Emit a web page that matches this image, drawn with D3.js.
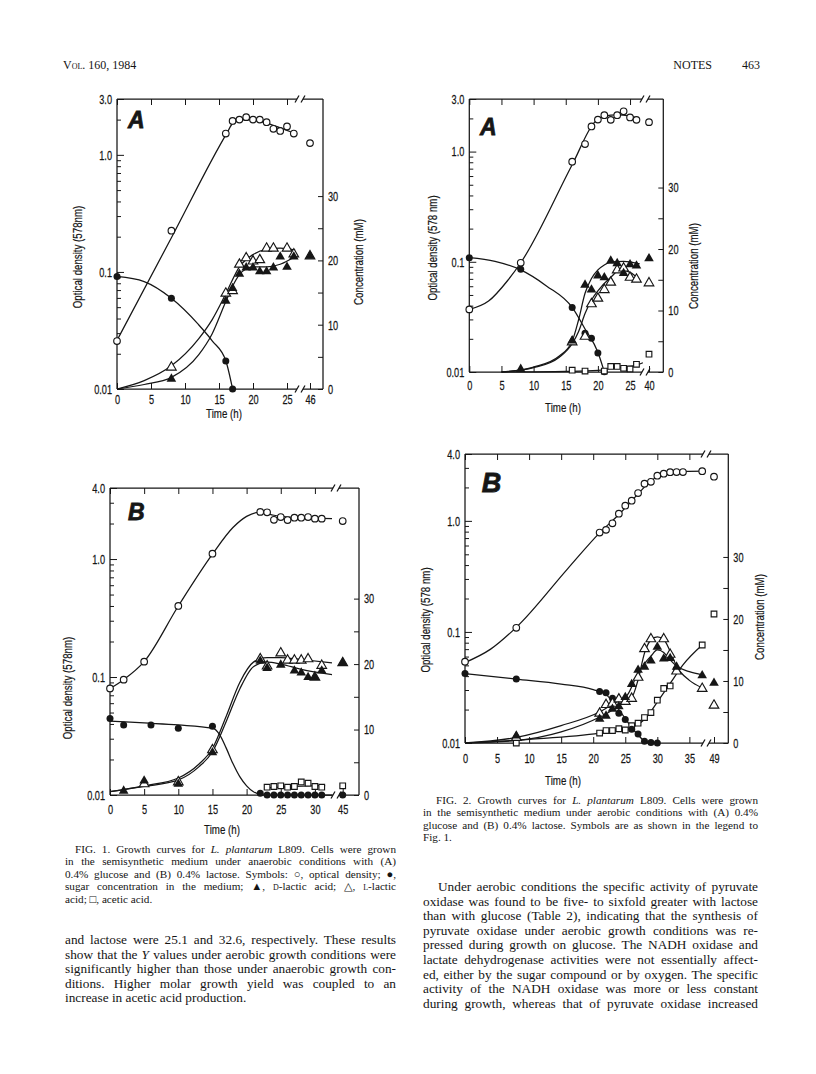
<!DOCTYPE html>
<html><head><meta charset="utf-8">
<script src="https://cdn.jsdelivr.net/npm/d3@7"></script>
<style>
body{margin:0;background:#fff;}
svg{display:block}
.serif{font-family:"Liberation Serif","Times New Roman","DejaVu Serif",serif;fill:#141414}
.cond{font-family:"Liberation Sans","Arial",sans-serif;fill:#141414}
</style></head><body>
<svg id="page" width="816" height="1074"></svg>
<script>
// ================= DATA =================
// ---- Fig. 1A : anaerobic, 0.4% glucose ----
const a1_od    = [[0,0.0257],[8,0.225],[16,1.52],[17,1.95],[18,2.0],[19,2.1],[20,2.0],[21,2.0],[22,1.9],[23,1.67],[24,1.6],[25,1.75],[26,1.52],[46,1.26]];
const a1_sugar = [[0,17.5],[8,14.1],[16,4.35],[17,0]];
const a1_dlac  = [[8,1.7],[16,13.8],[17,15.8],[18,18.0],[19,19.0],[20,19.0],[21,18.4],[22,18.4],[23,19.0],[24,20.7],[25,19.1],[26,20.7],[46,20.8]];
const a1_llac  = [[8,3.5],[16,15.0],[17,15.4],[18,19.5],[19,20.5],[20,20.0],[21,20.2],[22,22.0],[23,22.0],[25,22.0],[26,21.1],[46,20.8]];
const a1_fit_od    = [[0,0.026],[8,0.196],[16.2,1.55],[17,1.85],[18,1.97],[19,2.0],[20,1.98],[22,1.87],[24,1.7],[26.5,1.5]];
const a1_fit_sugar = [[0,17.5],[4,16.7],[8,14.1],[12,10.0],[14,7.5],[16,4.4],[17,0]];
const a1_fit_dlac  = [[0,0],[4,0.7],[8,1.8],[12,5.3],[14,8.6],[16,13.6],[17,16.0],[18,17.8],[19,18.7],[20,19.0],[22,19.0],[24,19.4],[26.2,20.6]];
const a1_fit_llac  = [[0,0],[4,1.3],[8,3.6],[12,7.8],[14,10.8],[16,14.8],[18,19.0],[20,20.9],[22,21.7],[24,21.9],[26.2,21.6]];

// ---- Fig. 2A : aerobic, 0.4% glucose ----
const a2_od    = [[0,0.037],[8,0.098],[16,0.81],[18,1.17],[19,1.69],[20,1.95],[21,2.14],[22,1.94],[23,2.14],[24,2.32],[25,2.04],[26,1.94],[40,1.85]];
const a2_sugar = [[0,18.6],[8,16.7],[16,10.5],[18,6.3],[19,5.5],[20,3.1],[21,0.05]];
const a2_dlac  = [[8,0.6],[16,5.2],[18,14.3],[19,13.5],[20,15.8],[21,15.5],[22,18.2],[23,17.8],[24,16.2],[25,17.6],[26,17.4],[40,18.6]];
const a2_llac  = [[16,5.0],[18,5.9],[19,11.2],[20,12.1],[21,13.5],[22,14.7],[23,16.7],[24,17.0],[25,15.5],[26,15.2],[40,14.6]];
const a2_acet  = [[16,0.3],[18,0.15],[21,0.15],[22,0.9],[23,0.9],[24,0.6],[25,0.5],[26,1.25],[40,2.9]];
const a2_fit_od    = [[0,0.037],[3,0.044],[6,0.068],[8,0.098],[16,0.76],[19.5,1.85],[21,2.1],[23,2.15],[25,2.1],[26.5,1.98]];
const a2_fit_sugar = [[0,18.6],[4,18.0],[8,16.6],[12,14.0],[16,10.5],[18,7.0],[20,3.2],[21,0]];
const a2_fit_dlac  = [[5,0],[10,0.8],[14,2.6],[16,5.0],[17,8.5],[18,12.8],[19,15.2],[20,16.6],[21,17.4],[22,17.9],[24,18.0],[26.5,17.6]];
const a2_fit_llac  = [[5,0],[10,0.7],[14,2.4],[16,4.6],[17,6.6],[18,9.5],[19,11.7],[20,13.2],[22,15.4],[23.5,16.6],[25,16.2],[26.5,15.0]];
const a2_fit_acet  = [[5,0],[15,0.1],[20,0.25],[22,0.6],[24,0.8],[26,1.1],[27,1.5]];

// ---- Fig. 1B : anaerobic, 0.4% lactose ----
const b1_od    = [[0,0.080],[2,0.095],[5,0.135],[10,0.40],[15,1.11],[22,2.51],[23,2.49],[24,2.15],[25,2.27],[26,2.14],[27,2.24],[28,2.24],[29,2.27],[30,2.2],[31,2.2],[45,2.1]];
const b1_sugar = [[0,11.7],[2,10.7],[6,10.7],[10,10.2],[15,10.5],[22,0.25],[23,0],[24,0],[25,0],[26,0],[27,0],[28,0],[29,0],[30,0],[31,0],[45,0]];
const b1_dlac  = [[2,0.75],[5,2.3],[10,1.8],[15,6.6],[22,20.6],[23,19.5],[25,20.0],[27,19.1],[28,18.8],[29,18.1],[30,18.1],[31,19.1],[45,20.3]];
const b1_llac  = [[5,1.8],[10,2.1],[15,7.0],[22,20.9],[23,19.8],[25,21.8],[26,20.7],[27,20.7],[28,20.7],[29,20.9],[30,18.1],[31,19.9],[45,20.3]];
const b1_acet  = [[23,1.2],[24,1.3],[25,1.4],[26,1.2],[27,1.3],[28,2.0],[29,1.8],[30,1.3],[31,1.2],[45,1.4]];
const b1_fit_od    = [[0,0.08],[2,0.095],[5,0.135],[10,0.4],[15,1.1],[18,1.85],[20,2.3],[22,2.5],[24,2.35],[27,2.25],[32.5,2.2]];
const b1_fit_sugar = [[0,11.3],[5,11.0],[10,10.7],[15,10.2],[16,9.3],[17,7.2],[18,4.8],[19,2.8],[20,1.4],[21,0.5],[22,0.1],[23,0],[32.5,0]];
const b1_fit_dlac  = [[0,0.5],[5,1.3],[10,2.3],[13,4.3],[15,6.6],[17,11.2],[19,16.2],[21,19.6],[23,20.3],[25,20.0],[28,19.2],[32.5,18.4]];
const b1_fit_llac  = [[0,0.5],[5,1.4],[10,2.6],[13,4.7],[15,7.1],[17,12.0],[19,17.2],[21,20.3],[23,21.0],[25,21.0],[28,20.7],[32.5,20.2]];
const b1_fit_acet  = [[23,1.1],[27,1.3],[31.5,1.45]];

// ---- Fig. 2B : aerobic, 0.4% lactose ----
const b2_od    = [[0,0.054],[8,0.109],[21,0.785],[22,0.83],[23,0.95],[24,1.16],[25,1.37],[26,1.52],[27,1.78],[28,2.16],[29,2.25],[30,2.55],[31,2.66],[32,2.74],[33,2.75],[34,2.75],[37,2.8],[49,2.5]];
const b2_sugar = [[0,11.2],[8,10.3],[21,8.3],[22,8.1],[23,7.2],[24,4.8],[25,3.8],[26,2.2],[27,1.45],[28,0.27],[29,0.1],[30,0]];
const b2_dlac  = [[8,1.3],[21,4.0],[22,4.5],[23,5.6],[24,6.0],[25,7.5],[26,9.6],[27,11.9],[28,12.4],[29,13.4],[30,15.6],[31,13.7],[32,13.8],[33,12.4],[37,11.0],[49,9.8]];
const b2_llac  = [[8,1.0],[21,4.9],[22,6.3],[23,6.5],[24,7.2],[25,6.8],[26,7.3],[27,10.7],[28,15.3],[29,16.9],[31,16.9],[32,14.4],[33,11.7],[37,8.9],[49,6.2]];
const b2_acet  = [[8,0],[21,1.6],[22,2.0],[23,2.0],[24,2.3],[25,2.1],[26,2.8],[27,3.2],[28,4.1],[29,4.9],[30,6.9],[31,8.8],[32,9.2],[33,11.7],[37,15.8],[49,20.8]];
const b2_fit_od    = [[0,0.053],[4,0.07],[8,0.11],[16,0.37],[21,0.78],[24,1.14],[27,1.75],[29,2.3],[31,2.65],[33,2.78],[37.5,2.8]];
const b2_fit_sugar = [[0,11.2],[8,10.3],[15,9.5],[20,8.6],[22,7.8],[24,5.4],[26,2.5],[27,1.3],[28,0.3],[29,0],[30,0]];
const b2_fit_dlac  = [[0,0],[8,0.4],[15,1.8],[21,4.2],[24,6.1],[25.5,8.0],[27,11.3],[28,12.8],[29,14.0],[30,15.0],[31,14.6],[32,13.4],[33,12.4],[35,11.5],[37,11.0]];
const b2_fit_llac  = [[0,0],[8,0.9],[15,2.8],[21,5.0],[24,6.8],[26,7.4],[27,10.2],[28,14.5],[29,16.6],[30,17.1],[31,16.7],[32,14.8],[33,12.4],[35,10.1],[37,8.9]];
const b2_fit_acet  = [[0,0],[10,0.6],[21,1.6],[24,2.1],[26,2.5],[28,3.8],[30,6.6],[32,9.6],[34,12.6],[37,15.8]];

// ---- tick values / labels ----
const xTicks1A = [0,5,10,15,20,25,46];
const xTicks2A = [0,5,10,15,20,25,40];
const xTicks1B = [0,5,10,15,20,25,30,45];
const xTicks2B = [0,5,10,15,20,25,30,35,49];
const odMajor3 = [0.01,0.1,1,3], odLabels3 = ["0.01","0.1","1.0","3.0"];
const odMajor4 = [0.01,0.1,1,4], odLabels4 = ["0.01","0.1","1.0","4.0"];
const odMinor  = [0.02,0.03,0.04,0.05,0.06,0.07,0.08,0.09,0.2,0.3,0.4,0.5,0.6,0.7,0.8,0.9,2,3];
const mMTicks  = [0,5,10,15,20,25,30];
const mMLabels = ["0","","10","","20","","30"];

// ================= LAYOUT =================
const INK = "#161616";
const SXT = 0.68;           // horizontal squeeze for tick numerals
const SXL = 0.72;           // horizontal squeeze for axis titles
const svg = d3.select("#page");

const charts = [
  {L:117, R:323, T:99, B:389, xDomain:[0,27,46], xRange:[117,300.6,310], brk:300, odTop:3, mMTop:45.1,
   xTicks:xTicks1A, odMajor:odMajor3, odLabels:odLabels3, xPad:5,
   letter:"A", letterAt:[128,128], letterSize:23, leftLab:[77,257], rightLab:[358,262], timeLab:[224,418],
   odTitle:"Optical density (578nm)",
   series:[
     {pts:a1_od, fit:a1_fit_od, ax:"od", sym:"oc"},
     {pts:a1_sugar, fit:a1_fit_sugar, ax:"c", sym:"fc"},
     {pts:a1_llac, fit:a1_fit_llac, ax:"c", sym:"ot"},
     {pts:a1_dlac, fit:a1_fit_dlac, ax:"c", sym:"ft"}]},
  {L:469.3, R:663.3, T:99, B:372, xDomain:[0,27,40], xRange:[469.3,642.9,649], brk:645, odTop:3, mMTop:44.4,
   xTicks:xTicks2A, odMajor:odMajor3, odLabels:odLabels3, xPad:8,
   letter:"A", letterAt:[480,135], letterSize:23, leftLab:[432,248], rightLab:[693,266], timeLab:[563,412],
   odTitle:"Optical density (578 nm)",
   series:[
     {pts:a2_od, fit:a2_fit_od, ax:"od", sym:"oc"},
     {pts:a2_sugar, fit:a2_fit_sugar, ax:"c", sym:"fc"},
     {pts:a2_acet, fit:a2_fit_acet, ax:"c", sym:"os"},
     {pts:a2_llac, fit:a2_fit_llac, ax:"c", sym:"ot"},
     {pts:a2_dlac, fit:a2_fit_dlac, ax:"c", sym:"ft"}]},
  {L:110, R:359, T:488, B:795, xDomain:[0,33,45], xRange:[110,335.4,342.7], brk:336, odTop:4, mMTop:46.9,
   xTicks:xTicks1B, odMajor:odMajor4, odLabels:odLabels4, xPad:9,
   letter:"B", letterAt:[128,520], letterSize:23, leftLab:[67,688], rightLab:null, timeLab:[222,834],
   odTitle:"Optical density (578nm)",
   series:[
     {pts:b1_od, fit:b1_fit_od, ax:"od", sym:"oc"},
     {pts:b1_acet, fit:b1_fit_acet, ax:"c", sym:"os"},
     {pts:b1_sugar, fit:b1_fit_sugar, ax:"c", sym:"fc"},
     {pts:b1_llac, fit:b1_fit_llac, ax:"c", sym:"ot"},
     {pts:b1_dlac, fit:b1_fit_dlac, ax:"c", sym:"ft"}]},
  {L:465, R:728.3, T:454, B:743, xDomain:[0,37.5,49], xRange:[465,705.4,714], brk:706, odTop:4, mMTop:46.6,
   xTicks:xTicks2B, odMajor:odMajor4, odLabels:odLabels4, xPad:10,
   letter:"B", letterAt:[481.7,491.7], letterSize:27, leftLab:[425,620], rightLab:[759,617], timeLab:[563,785],
   odTitle:"Optical density (578 nm)",
   series:[
     {pts:b2_od, fit:b2_fit_od, ax:"od", sym:"oc"},
     {pts:b2_acet, fit:b2_fit_acet, ax:"c", sym:"os"},
     {pts:b2_sugar, fit:b2_fit_sugar, ax:"c", sym:"fc"},
     {pts:b2_llac, fit:b2_fit_llac, ax:"c", sym:"ot"},
     {pts:b2_dlac, fit:b2_fit_dlac, ax:"c", sym:"ft"}]}
];

function styleAxis(sel, size){
  sel.select(".domain").remove();
  sel.attr("font-family", null).attr("font-size", null);
  sel.selectAll("line").attr("stroke", INK).attr("stroke-width", 1);
  sel.selectAll("text").each(function(){
    const t = d3.select(this);
    const xv = +t.attr("x") || 0;
    t.attr("class","cond").attr("font-size", size).attr("fill", INK)
     .attr("stroke", INK).attr("stroke-width", 0.25)
     .attr("x", xv / SXT).attr("transform", `scale(${SXT},1)`);
  });
}

function condLabel(g, x, y, txt, rot){
  g.append("text").attr("class","cond").attr("font-size",13.5).attr("text-anchor","middle")
    .attr("stroke", INK).attr("stroke-width", 0.2)
    .attr("transform",`translate(${x},${y})${rot ? " rotate(-90)" : ""} scale(${SXL},1)`)
    .attr("dy", rot ? "0.35em" : null).text(txt);
}

function drawChart(c){
  const g = svg.append("g");
  const x  = d3.scaleLinear().domain(c.xDomain).range(c.xRange);
  const yO = d3.scaleLog().domain([0.01, c.odTop]).range([c.B, c.T]);
  const yC = d3.scaleLinear().domain([0, c.mMTop]).range([c.B, c.T]);

  // axes (ticks point inward)
  g.append("g").attr("transform",`translate(0,${c.B})`)
    .call(d3.axisBottom(x).tickValues(c.xTicks).tickSize(-6).tickPadding(c.xPad).tickFormat(d3.format("d")))
    .call(s=>styleAxis(s,13.5));
  g.append("g").attr("transform",`translate(0,${c.T})`)
    .call(d3.axisTop(x).tickValues(c.xTicks.slice(0,-1)).tickSize(-6).tickFormat(""))
    .call(s=>styleAxis(s,13.5));
  g.append("g").attr("transform",`translate(${c.L},0)`)
    .call(d3.axisLeft(yO).tickValues(c.odMajor).tickSize(-7).tickPadding(5).tickFormat((d,i)=>c.odLabels[i]))
    .call(s=>styleAxis(s,13.5));
  g.append("g").attr("transform",`translate(${c.L},0)`)
    .call(d3.axisLeft(yO).tickValues(odMinor.filter(v=>v<c.odTop)).tickSize(-4).tickFormat(""))
    .call(s=>styleAxis(s,13.5));
  g.append("g").attr("transform",`translate(${c.R},0)`)
    .call(d3.axisRight(yC).tickValues(mMTicks).tickSize(-5).tickPadding(5).tickFormat((d,i)=>mMLabels[i]))
    .call(s=>styleAxis(s,13.5));

  // frame with axis break
  const gap = 3;
  const fr = g.append("g").attr("stroke", INK).attr("stroke-width", 1.25).attr("fill","none");
  fr.append("path").attr("d",
    `M${c.L},${c.T}V${c.B}M${c.R},${c.T}V${c.B}` +
    `M${c.L},${c.T}H${c.brk-gap}M${c.brk+gap},${c.T}H${c.R}` +
    `M${c.L},${c.B}H${c.brk-gap}M${c.brk+gap},${c.B}H${c.R}`);
  [c.T, c.B].forEach(yy => [-gap, gap].forEach(dx =>
    fr.append("line").attr("x1", c.brk+dx-2).attr("y1", yy+3.5).attr("x2", c.brk+dx+2).attr("y2", yy-3.5)));

  // fitted curves
  c.series.forEach(s => {
    const yy = s.ax === "od" ? yO : yC;
    g.append("path").datum(s.fit)
      .attr("fill","none").attr("stroke", INK).attr("stroke-width", 1.25)
      .attr("d", d3.line().x(d=>x(d[0])).y(d=>yy(d[1])).curve(d3.curveMonotoneX));
  });
  // markers
  const tri = d3.symbol(d3.symbolTriangle, 40)();
  const sq  = d3.symbol(d3.symbolSquare, 32)();
  c.series.forEach(s => {
    const yy = s.ax === "od" ? yO : yC;
    const m = g.append("g").selectAll("g").data(s.pts).join("g")
      .attr("transform", d => `translate(${x(d[0])},${yy(d[1])})`);
    if (s.sym === "oc") m.append("circle").attr("r",3.3).attr("fill","#fff").attr("stroke",INK).attr("stroke-width",1.15);
    if (s.sym === "fc") m.append("circle").attr("r",3.5).attr("fill",INK);
    if (s.sym === "ot") m.append("path").attr("d",tri).attr("transform","translate(0,0.8)").attr("fill","#fff").attr("stroke",INK).attr("stroke-width",1.15);
    if (s.sym === "ft") m.append("path").attr("d",tri).attr("transform","translate(0,0.8)").attr("fill",INK);
    if (s.sym === "os") m.append("path").attr("d",sq).attr("fill","#fff").attr("stroke",INK).attr("stroke-width",1.15);
  });

  // panel letter and titles
  g.append("text").attr("x", c.letterAt[0]).attr("y", c.letterAt[1])
    .attr("font-family","Liberation Sans, Arial, sans-serif").attr("font-weight","bold").attr("font-style","italic")
    .attr("stroke", INK).attr("stroke-width", 0.8)
    .attr("font-size", c.letterSize).attr("fill", INK).text(c.letter);
  condLabel(g, c.leftLab[0], c.leftLab[1], c.odTitle, true);
  if (c.rightLab) condLabel(g, c.rightLab[0], c.rightLab[1], "Concentration (mM)", true);
  condLabel(g, c.timeLab[0], c.timeLab[1], "Time (h)", false);
}
charts.forEach(drawChart);

// ================= TEXT =================
function textLine(x, y, width, segs, size){
  const t = svg.append("text").attr("class","serif").attr("x",x).attr("y",y).attr("font-size",size);
  segs.forEach(s => {
    const sp = t.append("tspan").text(typeof s === "string" ? s : s.t);
    if (s.i) sp.attr("font-style","italic");
    if (s.sc) sp.attr("font-variant","small-caps");
  });
  if (width){
    const w = t.node().getComputedTextLength();
    const txt = segs.map(s => typeof s === "string" ? s : s.t).join("");
    const n = (txt.match(/ /g) || []).length;
    if (n) t.attr("word-spacing", ((width - w) / n).toFixed(2));
  }
  return t;
}
// running header
textLine(63, 69, null, ["V",{t:"ol.",sc:1}," 160, 1984"], 12);
svg.append("text").attr("class","serif").attr("x",712).attr("y",69).attr("font-size",12).attr("text-anchor","end").text("NOTES");
svg.append("text").attr("class","serif").attr("x",760).attr("y",69).attr("font-size",12).attr("text-anchor","end").text("463");

// Fig. 1 caption
const LC0 = 65, LC1 = 396;
const cap1 = [
  [LC0+10, ["FIG. 1. Growth curves for ",{t:"L. plantarum",i:1}," L809. Cells were grown"], true],
  [LC0, ["in the semisynthetic medium under anaerobic conditions with (A)"], true],
  [LC0, ["0.4% glucose and (B) 0.4% lactose. Symbols: \u25CB, optical density; \u25CF,"], true],
  [LC0, ["sugar concentration in the medium; \u25B2, ",{t:"d",sc:1},"-lactic acid; \u25B3, ",{t:"l",sc:1},"-lactic"], true],
  [LC0, ["acid; \u25A1, acetic acid."], false]];
cap1.forEach((l,i) => textLine(l[0], 853 + i*12.4, l[2] ? LC1 - l[0] : null, l[1], 11.2));

const body1 = [
  [["and lactose were 25.1 and 32.6, respectively. These results"], true],
  [["show that the ",{t:"Y",i:1}," values under aerobic growth conditions were"], true],
  [["significantly higher than those under anaerobic growth con-"], true],
  [["ditions. Higher molar growth yield was coupled to an"], true],
  [["increase in acetic acid production."], false]];
body1.forEach((l,i) => textLine(LC0, 944 + i*14.6, l[1] ? LC1 - LC0 : null, l[0], 13.3));

// Fig. 2 caption
const RC0 = 423, RC1 = 758;
const cap2 = [
  [RC0+13, ["FIG. 2. Growth curves for ",{t:"L. plantarum",i:1}," L809. Cells were grown"], true],
  [RC0, ["in the semisynthetic medium under aerobic conditions with (A) 0.4%"], true],
  [RC0, ["glucose and (B) 0.4% lactose. Symbols are as shown in the legend to"], true],
  [RC0, ["Fig. 1."], false]];
cap2.forEach((l,i) => textLine(l[0], 804 + i*12.4, l[2] ? RC1 - l[0] : null, l[1], 11.2));

const body2 = [
  [RC0+15, "Under aerobic conditions the specific activity of pyruvate"],
  [RC0, "oxidase was found to be five- to sixfold greater with lactose"],
  [RC0, "than with glucose (Table 2), indicating that the synthesis of"],
  [RC0, "pyruvate oxidase under aerobic growth conditions was re-"],
  [RC0, "pressed during growth on glucose. The NADH oxidase and"],
  [RC0, "lactate dehydrogenase activities were not essentially affect-"],
  [RC0, "ed, either by the sugar compound or by oxygen. The specific"],
  [RC0, "activity of the NADH oxidase was more or less constant"],
  [RC0, "during growth, whereas that of pyruvate oxidase increased"]];
body2.forEach((l,i) => textLine(l[0], 891 + i*14.6, RC1 - l[0], [l[1]], 13.3));
</script>
</body></html>
